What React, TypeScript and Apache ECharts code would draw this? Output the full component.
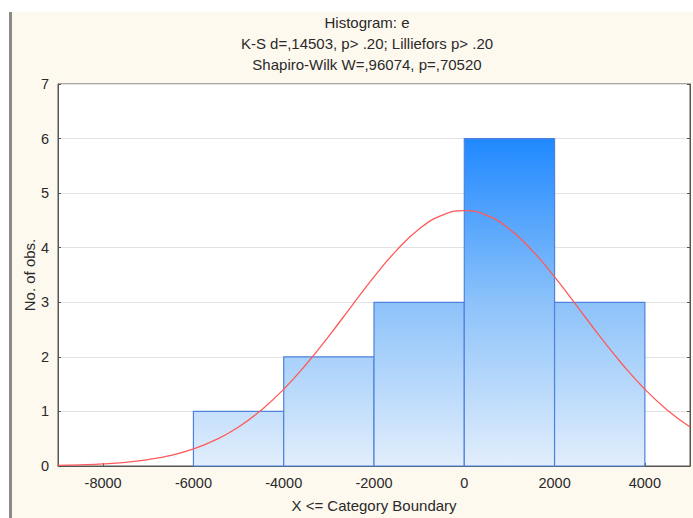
import React, { useEffect, useRef } from "react";
import * as echarts from "echarts";

const binStart = [-6000, -4000, -2000, 0, 2000];
const binEnd = [-4000, -2000, 0, 2000, 4000];
const counts = [1, 2, 3, 6, 3];

const xTicks = [-8000, -6000, -4000, -2000, 0, 2000, 4000];

const curveX = [-9000, -8500, -8000, -7500, -7000, -6500, -6000, -5500, -5000, -4500, -4000, -3500, -3000, -2500, -2000, -1500, -1000, -500, 0, 500, 1000, 1500, 2000, 2500, 3000, 3500, 4000, 4500, 5000];
const curveY = [0.011, 0.021, 0.038, 0.068, 0.118, 0.196, 0.313, 0.482, 0.715, 1.023, 1.407, 1.865, 2.38, 2.926, 3.465, 3.952, 4.341, 4.593, 4.68, 4.593, 4.341, 3.952, 3.465, 2.926, 2.38, 1.865, 1.407, 1.023, 0.715];

const titles = ["Histogram: e", "K-S d=,14503, p> .20; Lilliefors p> .20", "Shapiro-Wilk W=,96074, p=,70520"];

const FONT = "'Liberation Sans', Arial, sans-serif";
const TXT = "#2a2a2a";

export default function App() {
  const ref = useRef<HTMLDivElement>(null);
  useEffect(() => {
    if (!ref.current) return;
    const chart = echarts.init(ref.current, null, { renderer: "svg" });
    const barData = binStart.map((s, i) => [s, binEnd[i], counts[i]]);
    const gradient = {
      type: "linear",
      x: 0,
      y: 138,
      x2: 0,
      y2: 466,
      global: true,
      colorStops: [
        { offset: 0, color: "#1f88ff" },
        { offset: 0.5, color: "#8cc2fa" },
        { offset: 1, color: "#e2eefc" },
      ],
    };
    chart.setOption({
      animation: false,
      backgroundColor: "#fef9ef",
      textStyle: { fontFamily: FONT },
      title: titles.map((t, i) => ({
        text: t,
        left: 362,
        textAlign: "center",
        top: 10 + i * 21,
        textStyle: { fontSize: 15, fontWeight: "normal", color: TXT, fontFamily: FONT },
      })),
      graphic: [
        { type: "rect", shape: { x: 0, y: 0, width: 693, height: 12 }, style: { fill: "#ffffff" }, silent: true },
        { type: "rect", shape: { x: 0, y: 0, width: 9, height: 518 }, style: { fill: "#ffffff" }, silent: true },
        { type: "rect", shape: { x: 9, y: 12, width: 3, height: 506 }, style: { fill: "#8a8a8a" }, silent: true },
      ],
      grid: {
        left: 58,
        right: 3,
        top: 84,
        bottom: 52,
        show: true,
        backgroundColor: "#ffffff",
        borderColor: "#555555",
        borderWidth: 1,
      },
      xAxis: [
        {
          type: "value",
          min: -9000,
          max: 5000,
          name: "X <= Category Boundary",
          nameLocation: "middle",
          nameGap: 32,
          nameMoveOverlap: false,
          nameTextStyle: { fontSize: 15, color: TXT, fontFamily: FONT },
          axisLine: { show: true, onZero: false, lineStyle: { color: "#555555" } },
          axisTick: { show: true, inside: true, length: 3, customValues: xTicks, lineStyle: { color: "#555555" } },
          axisLabel: {
            customValues: xTicks,
            fontSize: 14.5,
            color: TXT,
            margin: 9,
            fontFamily: FONT,
            formatter: (v: number) => String(v),
          },
          splitLine: { show: false },
        },
      ],
      yAxis: [
        {
          type: "value",
          min: 0,
          max: 7,
          interval: 1,
          name: "No. of obs.",
          nameLocation: "middle",
          nameGap: 21,
          nameMoveOverlap: false,
          nameTextStyle: { fontSize: 15, color: TXT, fontFamily: FONT },
          axisLine: { show: true, onZero: false, lineStyle: { color: "#555555" } },
          axisTick: { show: true, inside: true, length: 3, lineStyle: { color: "#555555" } },
          axisLabel: { fontSize: 14.5, color: TXT, margin: 9, fontFamily: FONT },
          splitLine: { show: true, lineStyle: { color: "#e2e2e2", width: 1 } },
        },
        {
          type: "value",
          min: 0,
          max: 7,
          interval: 1,
          position: "right",
          axisLine: { show: true, onZero: false, lineStyle: { color: "#555555" } },
          axisTick: { show: true, inside: true, length: 3, lineStyle: { color: "#555555" } },
          axisLabel: { show: false },
          splitLine: { show: false },
        },
      ],
      series: [
        {
          type: "custom",
          xAxisIndex: 0,
          yAxisIndex: 0,
          data: barData,
          encode: { x: [0, 1], y: 2 },
          renderItem: (params: any, api: any) => {
            const p0 = api.coord([api.value(0), api.value(2)]);
            const p1 = api.coord([api.value(1), 0]);
            return {
              type: "rect",
              shape: { x: p0[0], y: p0[1], width: p1[0] - p0[0], height: p1[1] - p0[1] },
              style: { fill: gradient, stroke: "#4f82dc", lineWidth: 1.2 },
            };
          },
          z: 2,
        },
        {
          type: "line",
          xAxisIndex: 0,
          yAxisIndex: 0,
          data: curveX.map((x, i) => [x, curveY[i]]),
          smooth: true,
          showSymbol: false,
          symbol: "none",
          lineStyle: { color: "#ff5a5a", width: 1.3 },
          z: 3,
        },
      ],
    });
    return () => chart.dispose();
  }, []);
  return <div ref={ref} style={{ position: "fixed", left: 0, top: 0, width: 693, height: 518 }} />;
}
